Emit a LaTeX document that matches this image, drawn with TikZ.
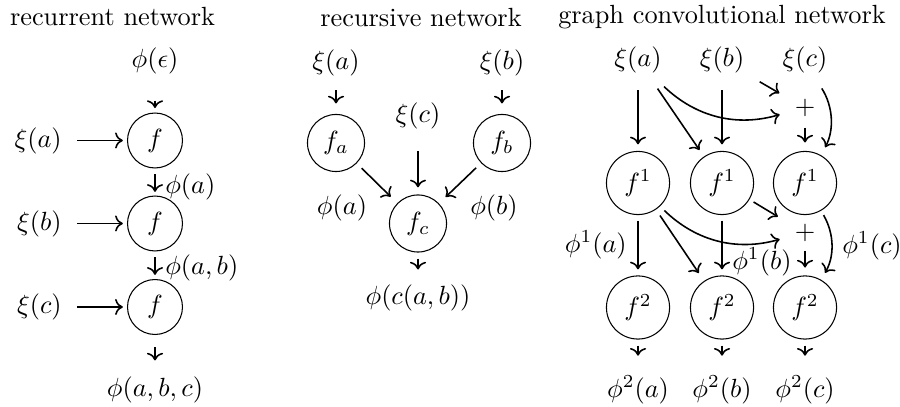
\documentclass[tikz,border=0pt]{standalone}
\usetikzlibrary{arrows.meta,positioning}
\begin{document}
\begin{tikzpicture}[x=0.3802pt, y=-0.3802pt,
  fn/.style={circle, draw, inner sep=1pt, minimum size=#1},
  fn/.default=21pt,
  arr/.style={->, semithick, shorten <=2.3pt, shorten >=2.3pt}]
\useasboundingbox (0,0) rectangle (900,407);
% Recurrent network
\node (t1) at (112.5,17) {recurrent network};
\node (eps) at (155,61) {$\phi(\epsilon)$};
\node[fn=20.9pt] (f1) at (155,140.5) {$f$};
\node[fn=20.9pt] (f2) at (155,223.5) {$f$};
\node[fn=20.9pt] (f3) at (155,307) {$f$};
\node[anchor=east] (xa) at (71,140.5) {$\xi(a)$};
\node[anchor=east] (xb) at (71,223.5) {$\xi(b)$};
\node[anchor=east] (xc) at (71,307) {$\xi(c)$};
\node[anchor=west] (pa) at (156,187) {$\phi(a)$};
\node[anchor=west] (pab) at (156,268) {$\phi(a,b)$};
\node (pabc) at (155,390) {$\phi(a,b,c)$};
\draw[arr, shorten <=6.5pt, shorten >=1.7pt] (eps) -- (f1);
\draw[arr, shorten >=1.6pt] (xa) -- (f1);
\draw[arr, shorten >=1.6pt] (xb) -- (f2);
\draw[arr, shorten >=1.6pt] (xc) -- (f3);
\draw[arr, shorten <=2.1pt, shorten >=1.4pt] (f1) -- (f2);
\draw[arr, shorten <=2.2pt, shorten >=1.6pt] (f2) -- (f3);
\draw[arr, shorten <=4.7pt, shorten >=2.7pt] (f3) -- (pabc);
% Recursive network
\node (t2) at (421,18) {recursive network};
\node (sa) at (336,63) {$\xi(a)$};
\node (sb) at (502,63) {$\xi(b)$};
\node (sc) at (418,115.5) {$\xi(c)$};
\node[fn=21.7pt] (fa) at (336,143) {$f_a$};
\node[fn=21.7pt] (fb) at (502,143) {$f_b$};
\node[fn=21.7pt] (fc) at (418,223.5) {$f_c$};
\node (qa) at (342,208) {$\phi(a)$};
\node (qb) at (494,208) {$\phi(b)$};
\node (qc) at (418,298) {$\phi(c(a,b))$};
\draw[arr, shorten <=1.9pt, shorten >=4pt] (sa) -- (fa);
\draw[arr, shorten <=1.9pt, shorten >=4pt] (sb) -- (fb);
\draw[arr, shorten <=5pt, shorten >=2.7pt] (sc) -- (fc);
\draw[arr, shorten <=2.6pt, shorten >=3.5pt] (fa) -- (fc);
\draw[arr, shorten <=2.6pt, shorten >=3.5pt] (fb) -- (fc);
\draw[arr] (fc) -- (qc);
% Graph convolutional network
\node (t3) at (722,17) {graph convolutional network};
\node (gxa) at (638,60) {$\xi(a)$};
\node (gxb) at (722,60) {$\xi(b)$};
\node (gxc) at (805,60) {$\xi(c)$};
\node (p1) at (805,108) {$+$};
\node[fn=24pt] (ga1) at (638,183) {$f^1$};
\node[fn=24pt] (gb1) at (722,183) {$f^1$};
\node[fn=24pt] (gc1) at (805,183) {$f^1$};
\node (p2) at (805,233) {$+$};
\node[fn=24pt] (ga2) at (638,307.5) {$f^2$};
\node[fn=24pt] (gb2) at (722,307.5) {$f^2$};
\node[fn=24pt] (gc2) at (805,307.5) {$f^2$};
\node[anchor=east] (ha) at (636,245) {$\phi^1(a)$};
\node[anchor=west] (hb) at (723,262) {$\phi^1(b)$};
\node[anchor=west] (hc) at (833,246) {$\phi^1(c)$};
\node (oa) at (638,390) {$\phi^2(a)$};
\node (ob) at (722,390) {$\phi^2(b)$};
\node (oc) at (805,390) {$\phi^2(c)$};
% Layer 1
\draw[arr, shorten <=3pt, shorten >=2.5pt] (gxa) -- (ga1);
\draw[arr, shorten <=2.85pt, shorten >=3pt] (gxa) -- (gb1);
\draw[arr] (gxa) to[bend right=30] (p1);
\draw[arr, shorten <=3pt, shorten >=2.5pt] (gxb) -- (gb1);
\draw[arr, shorten <=2.7pt, shorten >=2.7pt] (gxb) -- (p1);
\draw[arr, shorten <=2.7pt, shorten >=3.4pt] (gxc) to[bend left=30] (gc1);
\draw[arr, shorten <=0.6pt, shorten >=3.2pt] (p1) -- (gc1);
% Layer 2
\draw[arr, shorten <=2.1pt] (ga1) -- (ga2);
\draw[arr, shorten <=2.7pt, shorten >=3.6pt] (ga1) -- (gb2);
\draw[arr] (ga1) to[bend right=30] (p2);
\draw[arr, shorten <=2.1pt] (gb1) -- (gb2);
\draw[arr, shorten <=1.8pt, shorten >=3.4pt] (gb1) -- (p2);
\draw[arr, shorten <=1.9pt, shorten >=3pt] (gc1) to[bend left=30] (gc2);
\draw[arr, shorten <=0pt, shorten >=3pt] (p2) -- (gc2);
% Outputs
\draw[arr, shorten >=4.2pt] (ga2) -- (oa);
\draw[arr, shorten >=4.2pt] (gb2) -- (ob);
\draw[arr, shorten >=4.2pt] (gc2) -- (oc);
\end{tikzpicture}
\end{document}
